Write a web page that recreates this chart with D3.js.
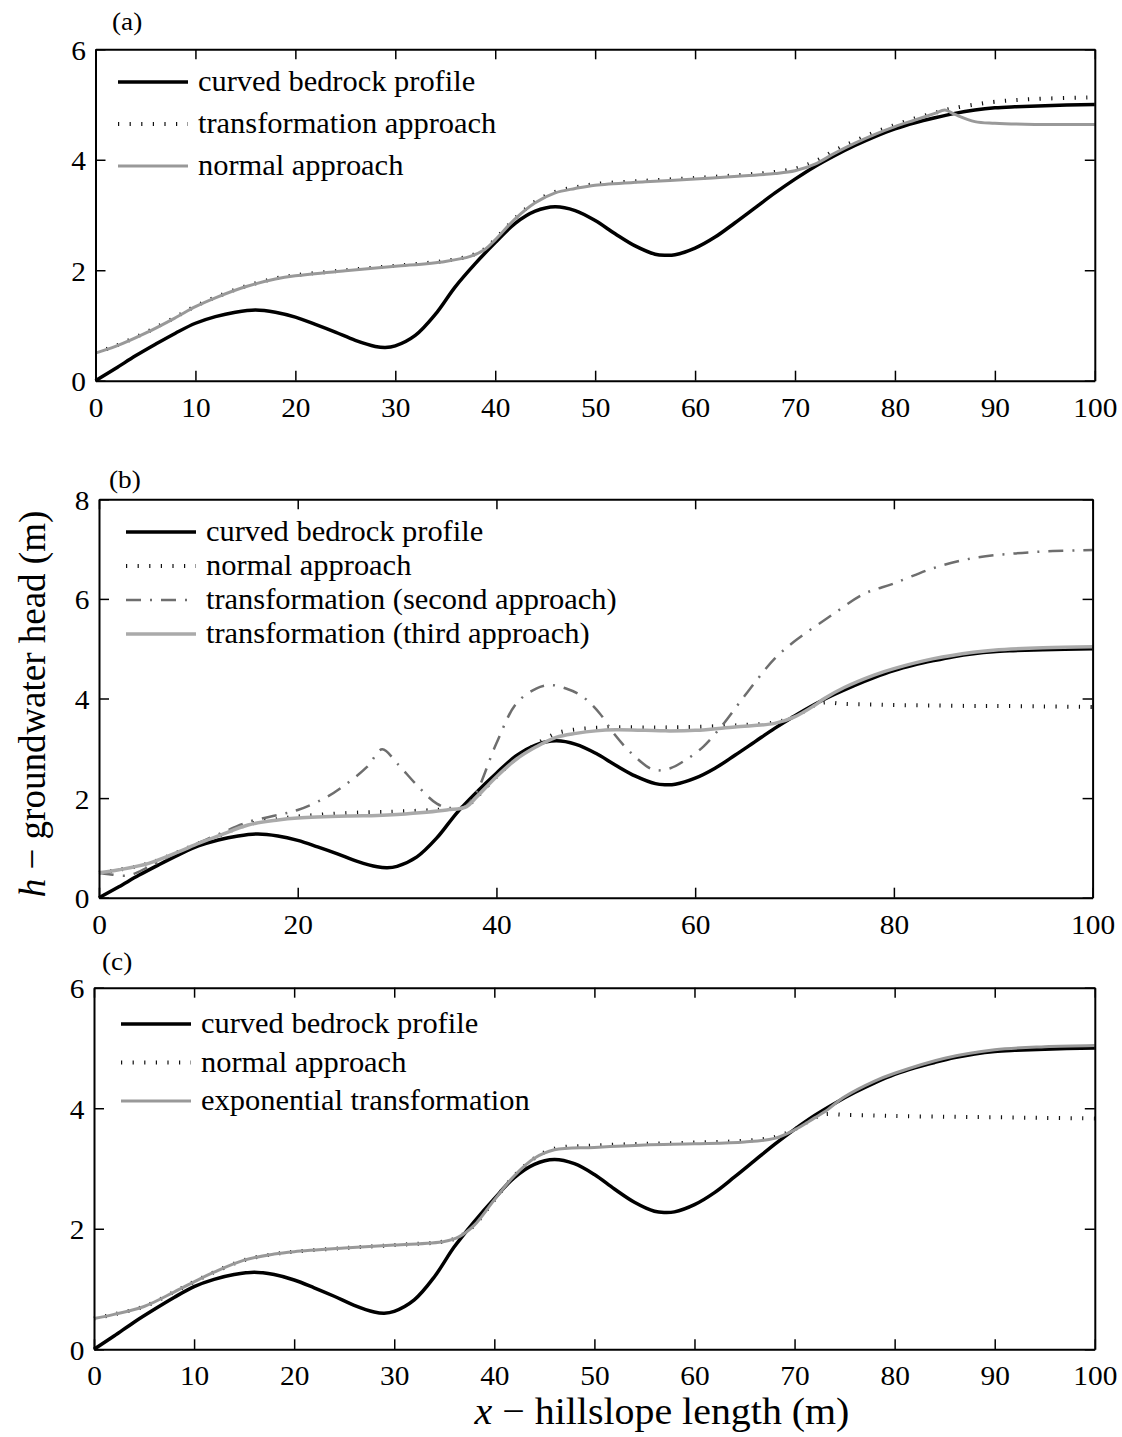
<!DOCTYPE html>
<html lang="en">
<head>
	<meta charset="UTF-8">
	<title>Curved bedrock profiles</title>
	<script type="text/javascript" src="https://cdn.jsdelivr.net/npm/d3@7"></script>
	<style>
		body {
			margin: 0;
			background: #fff;
		}

		svg text {
			font-family: "Liberation Serif", "Times New Roman", serif;
			fill: #000;
		}
	</style>
</head>
<body>
<div id="viz"></div>

<script type="text/javascript">
	// bedrock profile, same in all three panels
	var xBed = [0, 2, 4, 6, 8, 10, 12, 14, 16, 18, 20, 22, 24, 26, 28, 29, 30, 32, 34, 36, 38, 40, 42, 44, 46, 48, 50,
		52, 54, 56, 57, 58, 60, 62, 64, 66, 68, 70, 72, 74, 76, 78, 80, 82, 84, 86, 88, 90, 92, 95, 100];
	var hBed = [0, 0.22, 0.45, 0.66, 0.86, 1.04, 1.16, 1.24, 1.28, 1.24, 1.15, 1.02, 0.88, 0.73, 0.62, 0.6, 0.63, 0.82,
		1.2, 1.7, 2.12, 2.5, 2.85, 3.07, 3.15, 3.08, 2.9, 2.66, 2.44, 2.29, 2.27, 2.28, 2.4, 2.6, 2.86, 3.13, 3.4, 3.65,
		3.88, 4.08, 4.26, 4.42, 4.56, 4.67, 4.76, 4.84, 4.9, 4.94, 4.96, 4.98, 5.0];

	// panel (a)
	var xA = [0, 2, 5, 8, 10, 12, 15, 18, 20, 25, 30, 35, 37.5, 39, 40, 42, 44, 46, 48, 50, 55, 60, 65, 68, 70, 72, 74,
		76, 78, 80, 82, 84, 85, 86, 88, 90, 94, 100];
	var hNormalA = [0.5, 0.62, 0.86, 1.14, 1.34, 1.5, 1.7, 1.84, 1.9, 1.99, 2.07, 2.16, 2.25, 2.38, 2.55, 2.93, 3.22,
		3.4, 3.48, 3.54, 3.6, 3.65, 3.71, 3.75, 3.8, 3.92, 4.12, 4.3, 4.46, 4.6, 4.72, 4.84, 4.9, 4.82, 4.69, 4.66,
		4.64, 4.64];
	var hTransA = [0.51, 0.63, 0.87, 1.15, 1.35, 1.51, 1.71, 1.85, 1.91, 2.0, 2.08, 2.17, 2.26, 2.39, 2.56, 2.94, 3.24,
		3.42, 3.5, 3.56, 3.62, 3.67, 3.73, 3.78, 3.84, 3.97, 4.17, 4.34, 4.5, 4.63, 4.75, 4.85, 4.9, 4.94, 5.0, 5.05,
		5.1, 5.13];

	// panel (b)
	var xB = [0, 2, 5, 8, 10, 12, 15, 18, 20, 25, 28, 30, 35, 37, 38, 40, 42, 44, 46, 48, 50, 52, 55, 57, 60, 64, 68,
		70, 72, 73, 75, 78, 80, 84, 88, 90, 95, 100];
	var hThirdB = [0.5, 0.56, 0.69, 0.92, 1.09, 1.24, 1.46, 1.56, 1.6, 1.64, 1.65, 1.67, 1.76, 1.83, 2.02, 2.43, 2.78,
		3.03, 3.22, 3.3, 3.35, 3.37, 3.36, 3.35, 3.36, 3.43, 3.5, 3.63, 3.86, 4.0, 4.22, 4.47, 4.6, 4.8, 4.93, 4.97,
		5.02, 5.04];
	var hNormalB = [0.5, 0.56, 0.69, 0.92, 1.09, 1.24, 1.47, 1.58, 1.63, 1.7, 1.72, 1.73, 1.78, 1.84, 2.02, 2.43, 2.8,
		3.08, 3.3, 3.38, 3.41, 3.42, 3.42, 3.42, 3.43, 3.46, 3.52, 3.64, 3.86, 3.92, 3.89, 3.88, 3.87, 3.86, 3.85,
		3.85, 3.84, 3.83];
	var xSecondB = [0, 1, 3, 5, 8, 10, 12, 15, 18, 20, 23, 25, 27, 28.5, 30, 32, 34, 36, 37, 38, 40, 42, 44, 45.5, 47,
		48.6, 50.4, 51.8, 53.6, 55.8, 57.5, 59, 60.8, 62.6, 64.4, 66.2, 68, 70, 73.5, 77, 80, 84, 88, 92, 96, 100];
	var hSecondB = [0.5, 0.47, 0.45, 0.62, 0.92, 1.1, 1.27, 1.52, 1.66, 1.76, 2.03, 2.3, 2.63, 2.98, 2.7, 2.26, 1.89,
		1.76, 1.85, 2.12, 3.1, 3.9, 4.2, 4.27, 4.2, 4.05, 3.7, 3.3, 2.9, 2.57, 2.6, 2.76, 3.03, 3.43, 3.9, 4.37, 4.8,
		5.15, 5.64, 6.1, 6.31, 6.62, 6.82, 6.91, 6.96, 6.98];

	// panel (c)
	var xC = [0, 2, 5, 8, 10, 12, 15, 18, 20, 25, 30, 35, 36.5, 38, 40, 42, 44, 46, 50, 55, 60, 65, 68, 70, 72, 73, 75,
		78, 80, 85, 90, 95, 100];
	var hExpC = [0.51, 0.58, 0.71, 0.95, 1.12, 1.28, 1.48, 1.58, 1.62, 1.68, 1.73, 1.79, 1.87, 2.06, 2.48, 2.88, 3.17,
		3.31, 3.35, 3.39, 3.41, 3.44, 3.5, 3.64, 3.84, 3.94, 4.19, 4.45, 4.58, 4.83, 4.97, 5.02, 5.04];
	var hNormalC = [0.51, 0.58, 0.71, 0.95, 1.12, 1.28, 1.48, 1.58, 1.62, 1.68, 1.73, 1.79, 1.87, 2.06, 2.48, 2.88,
		3.17, 3.33, 3.38, 3.41, 3.43, 3.46, 3.52, 3.65, 3.84, 3.9, 3.89, 3.88, 3.87, 3.86, 3.85, 3.84, 3.83];

	var xTicks10 = [0, 10, 20, 30, 40, 50, 60, 70, 80, 90, 100];
	var xTicks20 = [0, 20, 40, 60, 80, 100];
	var yTicks6 = [0, 2, 4, 6];
	var yTicks8 = [0, 2, 4, 6, 8];

	var labelsA = ['curved bedrock profile', 'transformation approach', 'normal approach'];
	var labelsB = ['curved bedrock profile', 'normal approach', 'transformation (second approach)',
		'transformation (third approach)'];
	var labelsC = ['curved bedrock profile', 'normal approach', 'exponential transformation'];

	var stretch = 'scale(1.05,1)';

	var styles = {
		bed: {color: '#000', width: 3.5, dash: null},
		dot: {color: '#111', width: 4, dash: '1.2,10.4'},
		gray: {color: '#999', width: 3, dash: null},
		light: {color: '#aaa', width: 3.5, dash: null},
		dashdot: {color: '#6e6e6e', width: 2.5, dash: '15,9,2,9'}
	};

	function zip(xs, ys) {
		return xs.map(function (d, i) {
			return {x: d, h: ys[i]};
		});
	}

	var svg = d3.select('#viz')
		.append('svg')
		.attr('width', 1122)
		.attr('height', 1437);

	function drawPanel(p) {
		var x = d3.scaleLinear().domain([0, 100]).range([p.left, p.right]);
		var y = d3.scaleLinear().domain([0, p.yMax]).range([p.bottom, p.top]);
		var fmt = d3.format('d');

		var g = svg.append('g');

		var line = d3.line()
			.x(function (d) {
				return x(d.x);
			})
			.y(function (d) {
				return y(d.h);
			})
			.curve(d3.curveCatmullRom.alpha(0.5));

		p.series.forEach(function (s) {
			var st = styles[s.style];
			g.append('path')
				.datum(zip(s.xs, s.ys))
				.attr('d', line)
				.attr('fill', 'none')
				.attr('stroke', st.color)
				.attr('stroke-width', st.width)
				.attr('stroke-linejoin', 'round')
				.attr('stroke-dasharray', st.dash);
		});

		// axes on all four sides, ticks pointing inwards
		var gb = g.append('g')
			.attr('transform', 'translate(0,' + p.bottom + ')')
			.call(d3.axisBottom(x).tickValues(p.xTicks).tickFormat(fmt)
				.tickSizeInner(-10).tickSizeOuter(0).tickPadding(16));
		var gt = g.append('g')
			.attr('transform', 'translate(0,' + p.top + ')')
			.call(d3.axisTop(x).tickValues(p.xTicks).tickSizeInner(-10).tickSizeOuter(0).tickFormat(''));
		var gl = g.append('g')
			.attr('transform', 'translate(' + p.left + ',0)')
			.call(d3.axisLeft(y).tickValues(p.yTicks).tickFormat(fmt)
				.tickSizeInner(-10).tickSizeOuter(0).tickPadding(9));
		var gr = g.append('g')
			.attr('transform', 'translate(' + p.right + ',0)')
			.call(d3.axisRight(y).tickValues(p.yTicks).tickSizeInner(-10).tickSizeOuter(0).tickFormat(''));

		[gb, gt, gl, gr].forEach(function (a) {
			a.select('.domain').attr('stroke', '#000').attr('stroke-width', 2);
			a.selectAll('.tick line').attr('stroke', '#000').attr('stroke-width', 1.5);
			a.selectAll('.tick text')
				.attr('font-family', null)
				.style('font-size', '28px')
				.attr('fill', '#000');
		});
		gb.selectAll('.tick text').attr('transform', stretch);
		gl.selectAll('.tick text').attr('transform', stretch).attr('dy', '0.36em');

		// panel letter
		svg.append('text')
			.attr('transform', 'translate(' + p.tagX + ',' + p.tagY + ') ' + stretch)
			.style('font-size', '26px')
			.text(p.tag);

		// legend
		var lg = svg.append('g');
		p.labels.forEach(function (lab, i) {
			var st = styles[p.series[i].style];
			var ry = p.legY + i * p.legStep;
			lg.append('line')
				.attr('x1', p.legX)
				.attr('x2', p.legX + 70)
				.attr('y1', ry)
				.attr('y2', ry)
				.attr('stroke', st.color)
				.attr('stroke-width', st.width)
				.attr('stroke-dasharray', st.dash);
			lg.append('text')
				.attr('transform', 'translate(' + (p.legX + 80) + ',' + (ry + 9) + ') ' + stretch)
				.style('font-size', '29px')
				.text(lab);
		});
	}

	drawPanel({
		left: 95.5, right: 1094.8, top: 49.3, bottom: 380.7, yMax: 6,
		xTicks: xTicks10, yTicks: yTicks6,
		tag: '(a)', tagX: 112, tagY: 30,
		legX: 118, legY: 82, legStep: 42, labels: labelsA,
		series: [
			{xs: xBed, ys: hBed, style: 'bed'},
			{xs: xA, ys: hTransA, style: 'dot'},
			{xs: xA, ys: hNormalA, style: 'gray'}
		]
	});

	drawPanel({
		left: 99, right: 1092.6, top: 499.3, bottom: 897.7, yMax: 8,
		xTicks: xTicks20, yTicks: yTicks8,
		tag: '(b)', tagX: 109, tagY: 488,
		legX: 126, legY: 532, legStep: 34, labels: labelsB,
		series: [
			{xs: xBed, ys: hBed, style: 'bed'},
			{xs: xB, ys: hNormalB, style: 'dot'},
			{xs: xSecondB, ys: hSecondB, style: 'dashdot'},
			{xs: xB, ys: hThirdB, style: 'light'}
		]
	});

	drawPanel({
		left: 94, right: 1094.8, top: 987.7, bottom: 1349.3, yMax: 6,
		xTicks: xTicks10, yTicks: yTicks6,
		tag: '(c)', tagX: 102, tagY: 970,
		legX: 121, legY: 1024, legStep: 38.5, labels: labelsC,
		series: [
			{xs: xBed, ys: hBed, style: 'bed'},
			{xs: xC, ys: hNormalC, style: 'dot'},
			{xs: xC, ys: hExpC, style: 'gray'}
		]
	});

	// axis titles
	var yTitle = svg.append('text')
		.attr('transform', 'translate(45,704) ' + stretch + ' rotate(-90)')
		.attr('text-anchor', 'middle')
		.style('font-size', '37px');
	yTitle.append('tspan').style('font-style', 'italic').text('h');
	yTitle.append('tspan').text(' \u2212 groundwater head (m)');

	var xTitle = svg.append('text')
		.attr('transform', 'translate(662,1424) ' + stretch)
		.attr('text-anchor', 'middle')
		.style('font-size', '38px');
	xTitle.append('tspan').style('font-style', 'italic').text('x');
	xTitle.append('tspan').text(' \u2212 hillslope length (m)');
</script>
</body>
</html>
